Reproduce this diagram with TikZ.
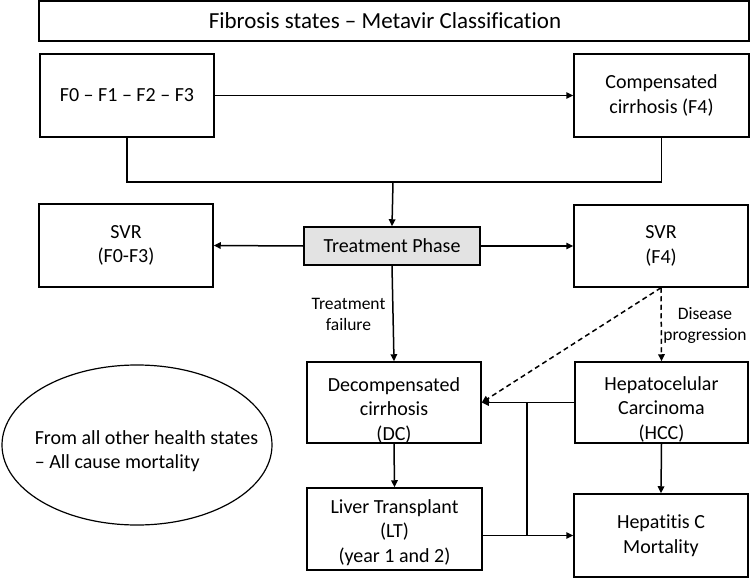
\documentclass[tikz,border=0pt]{standalone}
\usepackage{fontspec}
\setmainfont{Carlito}[Ligatures={NoCommon}]
\usetikzlibrary{arrows.meta,shapes.geometric}
\tikzset{
  box/.style={draw, line width=1.5pt, inner sep=0pt, align=center,
    font=\fontsize{20pt}{24.5pt}\selectfont},
  txt/.style={inner sep=0pt, align=center, font=\fontsize{20pt}{24.5pt}\selectfont},
  lbl/.style={inner sep=0pt, align=center, font=\fontsize{17.5pt}{21pt}\selectfont},
  conn/.style={line width=1.5pt},
  arr/.style={line width=1.5pt, -{Triangle[length=7pt,width=6.5pt]}},
  darr/.style={arr, dash pattern=on 5pt off 3.5pt},
}
\begin{document}
\begin{tikzpicture}[x=1pt,y=-1pt]
\useasboundingbox (0,0) rectangle (750,578);
% boxes
\node[box, minimum width=710pt, minimum height=40pt] (title) at (394,21) {};
\node[txt, font=\fontsize{23pt}{27pt}\selectfont] (titlet) at (385,21) {Fibrosis states – Metavir Classification};
\node[box, minimum width=174pt, minimum height=83pt] (f03) at (127,95.5) {F0 – F1 – F2 – F3};
\node[box, minimum width=175pt, minimum height=83pt] (f4) at (661.5,95.5) {Compensated\\cirrhosis (F4)};
\node[box, minimum width=174pt, minimum height=83pt] (svr03) at (126,245.5) {SVR\\(F0-F3)};
\node[box, fill=black!11, minimum width=176pt, minimum height=38pt] (tp) at (392,246) {Treatment Phase};
\node[box, minimum width=174pt, minimum height=82pt] (svr4) at (661,246) {SVR\\(F4)};
\node[box, minimum width=174pt, minimum height=81pt] (dc) at (394,402.5) {};
\node[txt] (dct) at (394,410) {Decompensated\\cirrhosis\\(DC)};
\node[box, minimum width=173pt, minimum height=81pt] (hcc) at (661.5,402.5) {};
\node[txt] (hcct) at (661.5,409) {Hepatocelular\\Carcinoma\\(HCC)};
\node[box, minimum width=175pt, minimum height=82pt] (lt) at (394.5,529) {};
\node[txt] (ltt) at (394.5,532.5) {Liver Transplant\\(LT)\\(year 1 and 2)};
\node[box, minimum width=174pt, minimum height=83pt] (hcm) at (661,535.5) {Hepatitis C\\Mortality};
\node[draw, line width=1.2pt, ellipse, minimum width=270pt, minimum height=160pt, inner sep=0pt] (oth) at (137,445) {};
\node[txt, align=left] (otht) at (146.5,451) {From all other health states\\– All cause mortality};
% connectors
\coordinate (bus) at (393,182);
\draw[arr] (f03.east) -- (f4.west);
\draw[conn] (f03.south) |- (bus) -| (f4.south);
\draw[arr] (bus) -- (tp.north);
\draw[arr] (tp.west) -- (svr03.east);
\draw[arr] (tp.east) -- (svr4.west);
\draw[arr] (tp.south) -- (dc.north);
\node[lbl] (tfl) at (348.5,314) {Treatment\\failure};
\draw[darr] (svr4.south) -- (hcc.north);
\draw[darr] (svr4.south) -- (dc.east);
\node[lbl] (dpl) at (705,325) {Disease\\progression};
\draw[arr] (hcc.west) -- (dc.east);
\draw[arr] (dc.south) -- (lt.north);
\draw[arr] (hcc.south) -- (hcm.north);
\draw[arr] (hcm.west -| lt.east) -- (hcm.west);
\coordinate (v1) at (527,402.5);
\coordinate (v2) at (527,535.5);
\draw[conn] (v1) -- (v2);
\end{tikzpicture}
\end{document}
